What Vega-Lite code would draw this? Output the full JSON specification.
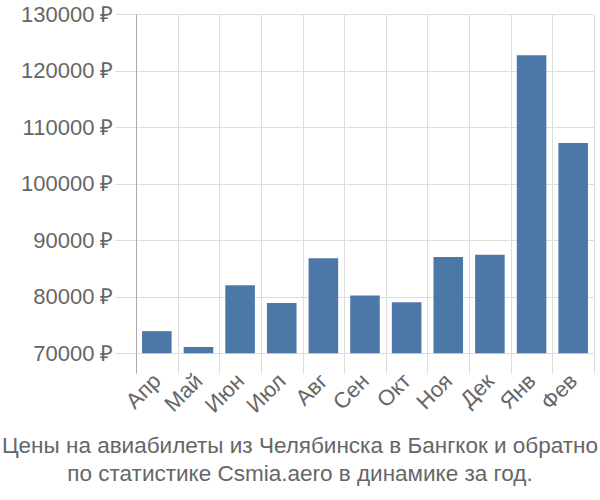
{
  "$schema": "https://vega.github.io/schema/vega-lite/v6.json",
  "width": 458,
  "height": 359,
  "autosize": "none",
  "padding": {"left": 136, "top": 14, "right": 6, "bottom": 127},
  "background": "white",
  "config": {
    "view": {"stroke": null},
    "font": "Liberation Sans"
  },
  "title": {
    "text": ["Цены на авиабилеты из Челябинска в Бангкок и обратно", "по статистике Csmia.aero в динамике за год."],
    "orient": "bottom",
    "anchor": "middle",
    "fontSize": 22.5,
    "fontWeight": "normal",
    "color": "#666666",
    "font": "Liberation Sans",
    "lineHeight": 28,
    "offset": 19,
    "dx": -65
  },
  "data": {
    "values": [
      {"month": "Апр", "price": 73900},
      {"month": "Май", "price": 71100},
      {"month": "Июн", "price": 82000},
      {"month": "Июл", "price": 78900},
      {"month": "Авг", "price": 86800},
      {"month": "Сен", "price": 80200},
      {"month": "Окт", "price": 79000},
      {"month": "Ноя", "price": 87000},
      {"month": "Дек", "price": 87400},
      {"month": "Янв", "price": 122700},
      {"month": "Фев", "price": 107200}
    ]
  },
  "mark": {"type": "bar", "color": "#4c78a8", "width": {"band": 0.71}},
  "encoding": {
    "x": {
      "field": "month",
      "type": "nominal",
      "sort": null,
      "title": null,
      "scale": {"paddingInner": 0, "paddingOuter": 0},
      "axis": {
        "tickBand": "extent",
        "grid": true,
        "gridColor": "#dddddd",
        "gridWidth": 1,
        "domain": false,
        "ticks": false,
        "labelAngle": -45,
        "labelFontSize": 22,
        "labelColor": "#666666",
        "labelPadding": 4,
        "labelAlign": "right",
        "labelBaseline": "middle"
      }
    },
    "y": {
      "field": "price",
      "type": "quantitative",
      "title": null,
      "scale": {"domain": [66500, 130000], "nice": false, "zero": false},
      "axis": {
        "values": [70000, 80000, 90000, 100000, 110000, 120000, 130000],
        "labelExpr": "datum.value + ' ₽'",
        "grid": true,
        "gridColor": "#dddddd",
        "domain": true,
        "domainColor": "#aaaaaa",
        "tickSize": 21,
        "tickColor": "#dddddd",
        "labelPadding": 2,
        "labelFontSize": 22,
        "labelColor": "#666666"
      }
    },
    "y2": {"datum": 70000}
  }
}
